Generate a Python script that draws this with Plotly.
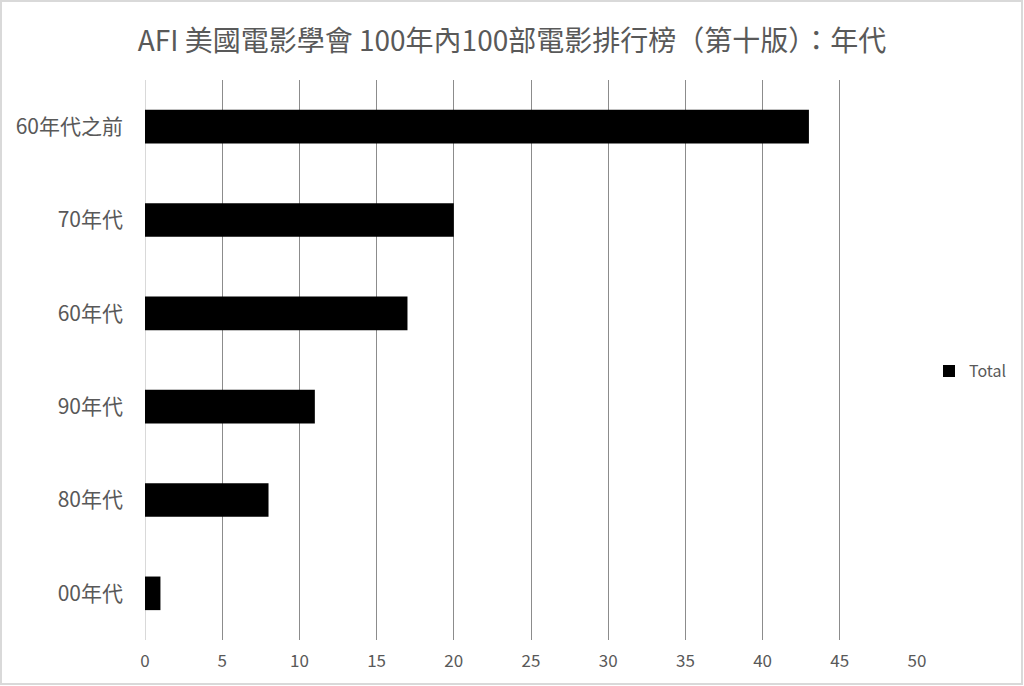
import plotly.graph_objects as go

# 年代分布 (top to bottom as in the chart)
decades = ["60年代之前", "70年代", "60年代", "90年代", "80年代", "00年代"]
counts = [43, 20, 17, 11, 8, 1]
x_ticks = [0, 5, 10, 15, 20, 25, 30, 35, 40, 45, 50]

W, H = 1024, 686
ml, mr, mt, mb = 145, 107, 80, 46
pw, ph = W - ml - mr, H - mt - mb

font_family = "Noto Sans CJK TC, Noto Sans, sans-serif"
grey_text = "#595959"

fig = go.Figure()
fig.add_trace(go.Bar(
    x=counts,
    y=decades,
    orientation="h",
    name="Total",
    marker=dict(color="#000000", line=dict(width=0)),
    width=0.36,
))

fig.update_layout(
    width=W,
    height=H,
    margin=dict(l=ml, r=mr, t=mt, b=mb, autoexpand=False),
    paper_bgcolor="white",
    plot_bgcolor="white",
    font=dict(family=font_family, color=grey_text),
    title=dict(
        text="AFI 美國電影學會 100年內100部電影排行榜（第十版）：年代",
        x=0.5,
        xanchor="center",
        y=1 - 41 / H,
        yanchor="middle",
        font=dict(size=28, color=grey_text),
    ),
    showlegend=True,
    legend=dict(
        x=1 + 12 / pw,
        y=0.48,
        xanchor="left",
        yanchor="middle",
        font=dict(size=16, color=grey_text),
        bgcolor="rgba(0,0,0,0)",
        itemwidth=30,
    ),
    xaxis=dict(
        range=[0, 50],
        tickvals=x_ticks,
        showgrid=True,
        gridcolor="#8c8c8c",
        gridwidth=1,
        zeroline=True,
        zerolinecolor="#d9d9d9",
        zerolinewidth=1,
        showline=False,
        ticks="",
        tickfont=dict(size=17, color=grey_text),
        ticklabelstandoff=9,
        fixedrange=True,
    ),
    yaxis=dict(
        autorange="reversed",
        showgrid=False,
        showline=False,
        ticks="",
        ticklabelstandoff=21,
        tickfont=dict(size=21, color=grey_text),
        fixedrange=True,
    ),
    bargap=0.64,
)

# light grey frame around the whole chart area
fig.add_shape(
    type="rect",
    xref="paper",
    yref="paper",
    x0=-(ml - 1) / pw,
    x1=1 + (mr - 2) / pw,
    y0=-(mb - 2) / ph,
    y1=1 + (mt - 1) / ph,
    line=dict(color="#d9d9d9", width=2),
    fillcolor="rgba(0,0,0,0)",
    layer="below",
)

fig.write_html(
    "out.html",
    config={"displayModeBar": False},
    post_script="document.body.style.margin='0';",
)
